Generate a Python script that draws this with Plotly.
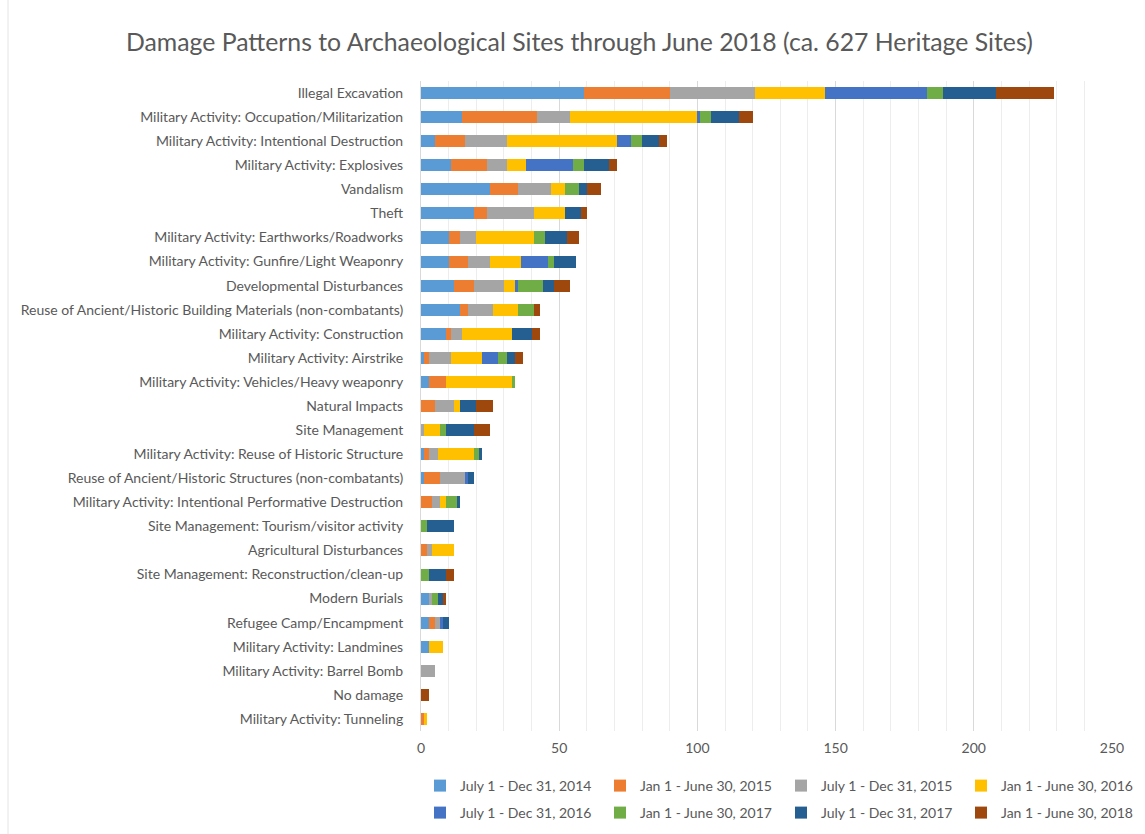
import plotly.graph_objects as go

categories = [
    "Illegal Excavation",
    "Military Activity: Occupation/Militarization",
    "Military Activity: Intentional Destruction",
    "Military Activity: Explosives",
    "Vandalism",
    "Theft",
    "Military Activity: Earthworks/Roadworks",
    "Military Activity: Gunfire/Light Weaponry",
    "Developmental Disturbances",
    "Reuse of Ancient/Historic Building Materials (non-combatants)",
    "Military Activity: Construction",
    "Military Activity: Airstrike",
    "Military Activity: Vehicles/Heavy weaponry",
    "Natural Impacts",
    "Site Management",
    "Military Activity: Reuse of Historic Structure",
    "Reuse of Ancient/Historic Structures (non-combatants)",
    "Military Activity: Intentional Performative Destruction",
    "Site Management: Tourism/visitor activity",
    "Agricultural Disturbances",
    "Site Management: Reconstruction/clean-up",
    "Modern Burials",
    "Refugee Camp/Encampment",
    "Military Activity: Landmines",
    "Military Activity: Barrel Bomb",
    "No damage",
    "Military Activity: Tunneling",
]

# Number of sites per damage category, one list per reporting period
jul_dec_2014 = [59, 15, 5, 11, 25, 19, 10, 10, 12, 14, 9, 1, 3, 0, 0, 1, 1, 0, 0, 0, 0, 3, 3, 3, 0, 0, 0]
jan_jun_2015 = [31, 27, 11, 13, 10, 5, 4, 7, 7, 3, 2, 2, 6, 5, 0, 2, 6, 4, 0, 2, 0, 0, 2, 0, 0, 0, 1]
jul_dec_2015 = [31, 12, 15, 7, 12, 17, 6, 8, 11, 9, 4, 8, 0, 7, 1, 3, 9, 3, 0, 2, 0, 1, 2, 0, 5, 0, 0]
jan_jun_2016 = [25, 46, 40, 7, 5, 11, 21, 11, 4, 9, 18, 11, 24, 2, 6, 13, 0, 2, 0, 8, 0, 0, 0, 5, 0, 0, 1]
jul_dec_2016 = [37, 1, 5, 17, 0, 0, 0, 10, 1, 0, 0, 6, 0, 0, 0, 0, 1, 0, 0, 0, 0, 0, 1, 0, 0, 0, 0]
jan_jun_2017 = [6, 4, 4, 4, 5, 0, 4, 2, 9, 6, 0, 3, 1, 0, 2, 2, 0, 4, 2, 0, 3, 2, 0, 0, 0, 0, 0]
jul_dec_2017 = [19, 10, 6, 9, 3, 6, 8, 8, 4, 0, 7, 3, 0, 6, 10, 1, 2, 1, 10, 0, 6, 2, 2, 0, 0, 0, 0]
jan_jun_2018 = [21, 5, 3, 3, 5, 2, 4, 0, 6, 2, 3, 3, 0, 6, 6, 0, 0, 0, 0, 0, 3, 1, 0, 0, 0, 3, 0]

period_names = [
    "July 1 - Dec 31, 2014",
    "Jan 1 - June 30, 2015",
    "July 1 - Dec 31, 2015",
    "Jan 1 - June 30, 2016",
    "July 1 - Dec 31, 2016",
    "Jan 1 - June 30, 2017",
    "July 1 - Dec 31, 2017",
    "Jan 1 - June 30, 2018",
]
period_values = [
    jul_dec_2014, jan_jun_2015, jul_dec_2015, jan_jun_2016,
    jul_dec_2016, jan_jun_2017, jul_dec_2017, jan_jun_2018,
]
colors = ["#5B9BD5", "#ED7D31", "#A5A5A5", "#FFC000",
          "#4472C4", "#70AD47", "#255E91", "#9E480E"]

FONT = "Lato"
TEXT = "#595959"
W, H = 1145, 834

# Legend laid out as a 4 x 2 grid: one single-entry legend per period
legend_cols_px = [420, 600, 781, 961]
legend_rows_px = [786, 813]

fig = go.Figure()
legend_layouts = {}
for i, (name, vals, col) in enumerate(zip(period_names, period_values, colors)):
    key = "legend" if i == 0 else f"legend{i + 1}"
    fig.add_trace(go.Bar(
        y=categories,
        x=vals,
        name=name,
        orientation="h",
        marker=dict(color=col, line=dict(width=0)),
        legend=key,
        showlegend=True,
    ))
    legend_layouts[key] = dict(
        orientation="h",
        xref="container", yref="container",
        x=legend_cols_px[i % 4] / W,
        y=1 - legend_rows_px[i // 4] / H,
        xanchor="left", yanchor="middle",
        font=dict(family=FONT, size=14, color=TEXT),
        bgcolor="rgba(0,0,0,0)",
        itemwidth=30,
        visible=True,
    )

fig.update_layout(
    width=W, height=H,
    showlegend=True,
    barmode="stack",
    bargap=0.5,
    paper_bgcolor="white",
    plot_bgcolor="white",
    margin=dict(l=421, r=33, t=81, b=103, autoexpand=False),
    title=dict(
        text="Damage Patterns to Archaeological Sites through June 2018 (ca. 627 Heritage Sites)",
        x=0.506, xanchor="center",
        y=1 - 42 / H, yanchor="middle",
        font=dict(family=FONT, size=24.8, color=TEXT),
    ),
    xaxis=dict(
        range=[0, 250],
        dtick=50,
        showgrid=True,
        gridcolor="#D9D9D9",
        gridwidth=1,
        minor=dict(dtick=10, showgrid=True, gridcolor="#EDEDED", gridwidth=1),
        zeroline=False,
        showline=False,
        tickfont=dict(family=FONT, size=14, color=TEXT),
        ticklabelstandoff=7,
        fixedrange=True,
    ),
    yaxis=dict(
        type="category",
        autorange="reversed",
        showgrid=False,
        showline=True,
        linecolor="#D9D9D9",
        linewidth=1,
        tickfont=dict(family=FONT, size=14, color=TEXT),
        ticklabelstandoff=14,
        fixedrange=True,
    ),
    shapes=[
        dict(type="line", xref="paper", yref="paper",
             x0=(8 - 421) / 691, x1=(8 - 421) / 691,
             y0=(731 - 834) / 650, y1=(731 - 0) / 650,
             line=dict(color="#E4E4E4", width=1), layer="below"),
    ],
    **legend_layouts,
)

fig.write_html("out.html")
